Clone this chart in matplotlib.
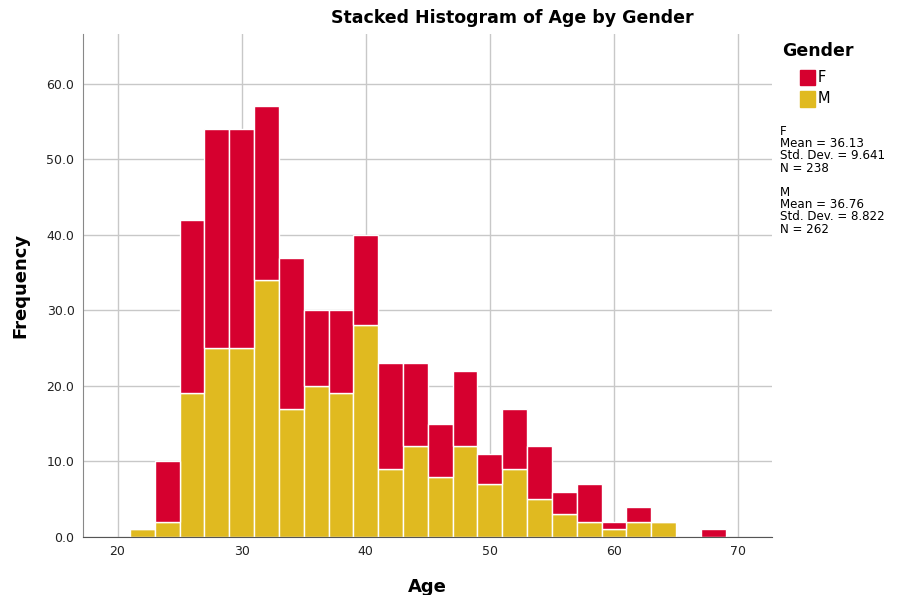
import numpy as np
import matplotlib
matplotlib.use('Agg')
import matplotlib.pyplot as plt
from matplotlib.patches import Rectangle
from matplotlib import rcParams

rcParams['font.family'] = 'DejaVu Sans'

# bin left edges (width 2 years) and counts per gender
bin_left = [21, 23, 25, 27, 29, 31, 33, 35, 37, 39, 41, 43, 45, 47, 49, 51,
            53, 55, 57, 59, 61, 63, 65, 67]
male = [1, 2, 19, 25, 25, 34, 17, 20, 19, 28, 9, 12, 8, 12, 7, 9,
        5, 3, 2, 1, 2, 2, 0, 0]
female = [0, 8, 23, 29, 29, 23, 20, 10, 11, 12, 14, 11, 7, 10, 4, 8,
          7, 3, 5, 1, 2, 0, 0, 1]
bin_width = 2

stats_text = ("F\nMean = 36.13\nStd. Dev. = 9.641\nN = 238\n\n"
              "M\nMean = 36.76\nStd. Dev. = 8.822\nN = 262")

RED = '#D6002F'
YELLOW = '#E0BA20'

fig = plt.figure(figsize=(9, 5.95), dpi=100)
ax = fig.add_axes([0.092, 0.0975, 0.766, 0.8455])

ax.grid(True, color='#c8c8c8', linewidth=1)
ax.set_axisbelow(True)

ax.bar(bin_left, male, width=bin_width, align='edge', color=YELLOW,
       edgecolor='white', linewidth=1, zorder=2)
ax.bar(bin_left, female, width=bin_width, align='edge', bottom=male,
       color=RED, edgecolor='white', linewidth=1, zorder=2)

ax.set_xlim(17.2, 72.75)
ax.set_ylim(0, 66.6)
ax.set_xticks([20, 30, 40, 50, 60, 70])
ax.set_yticks(np.arange(0, 61, 10))
ax.set_yticklabels([f'{v:.1f}' for v in np.arange(0, 61, 10)])
ax.tick_params(length=0, labelsize=9, colors='#222222', pad=6)

for s in ['top', 'right']:
    ax.spines[s].set_visible(False)
ax.spines['left'].set_color('#888888')
ax.spines['bottom'].set_color('#555555')

ax.set_xlabel('Age', fontsize=13, fontweight='bold', labelpad=14)
ax.set_ylabel('Frequency', fontsize=13, fontweight='bold', labelpad=12)

fig.text(0.569, 0.97, 'Stacked Histogram of Age by Gender', ha='center',
         va='center', fontsize=12.5, fontweight='bold')

# legend
fig.text(0.869, 0.915, 'Gender', fontsize=12.5, fontweight='bold', va='center')
for i, (lab, col) in enumerate([('F', RED), ('M', YELLOW)]):
    y = 0.870 - i * 0.036
    fig.patches.append(Rectangle((0.889, y - 0.013), 0.016, 0.026,
                                 transform=fig.transFigure, color=col))
    fig.text(0.909, y, lab, fontsize=10.5, va='center')

fig.text(0.867, 0.79, stats_text, fontsize=8.6, va='top', linespacing=0.92)

fig.savefig('out.png', dpi=100)
